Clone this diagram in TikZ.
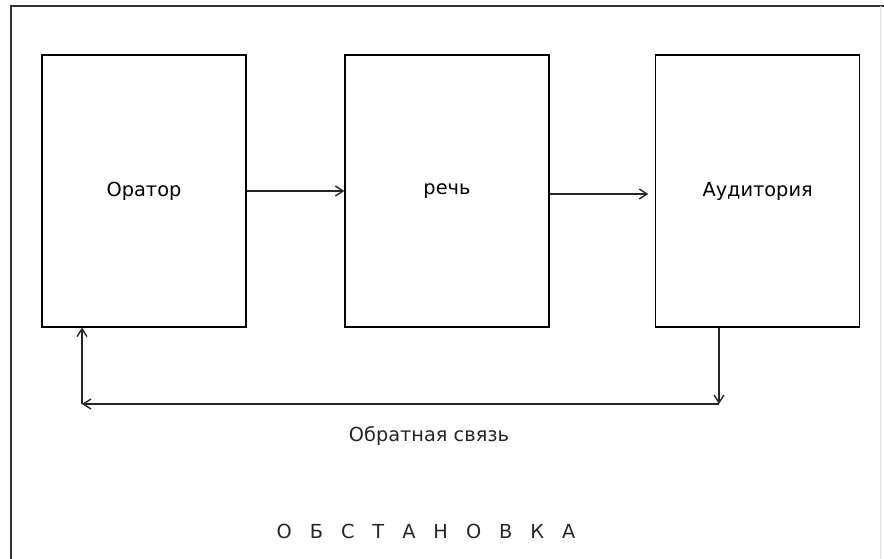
\documentclass[tikz,border=0pt]{standalone}
\usepackage{fontspec}
\setmainfont{DejaVu Sans}
\usetikzlibrary{arrows.meta,positioning}

\begin{document}
\begin{tikzpicture}[
  x=0.03cm,y=-0.03cm,
  font=\fontsize{16.5}{19}\selectfont,
  frame/.style={draw=black!80,line width=1.6pt},
  box/.style={draw=black,line width=1.1pt,
    minimum width=6.12cm,minimum height=8.16cm,inner sep=0pt},
  arr/.style={-{Straight Barb[length=2.3mm,width=3mm]},
    draw=black!85,line width=1.2pt}
]
  \useasboundingbox (0,0) rectangle (884,559);
  % Outer frame
  \draw[frame] (11,559) -- (11,6) -- (884,6);
  \draw[black!12,line width=0.8pt] (880,6) -- (880,559);
  % Main chain
  \node[box]                         (orator)   at (144,191) {Оратор};
  \node[box,right=2.93cm of orator]  (speech)   {речь};
  \node[box,right=3.16cm of speech]  (audience) {Аудитория};
  % Feedback corners
  \coordinate (fbR) at (719,404);
  \coordinate (fbL) at (82,404);
  % Labels
  \node[text=black!85] (fbtext) at (429,436) {Обратная связь};
  \node[text=black!85] (env) at (426,531) {\spaceskip=0.93em О Б С Т А Н О В К А};
  % Arrows
  \draw[arr] (orator) -- (speech);
  \draw[arr] ([yshift=-0.09cm]speech.east) -- ([xshift=-0.2cm,yshift=-0.09cm]audience.west);
  \draw[arr] (audience.south -| fbR) -- (fbR);
  \draw[arr] (fbR) -- (fbL);
  \draw[arr] (fbL) -- (orator.south -| fbL);
\end{tikzpicture}
\end{document}
